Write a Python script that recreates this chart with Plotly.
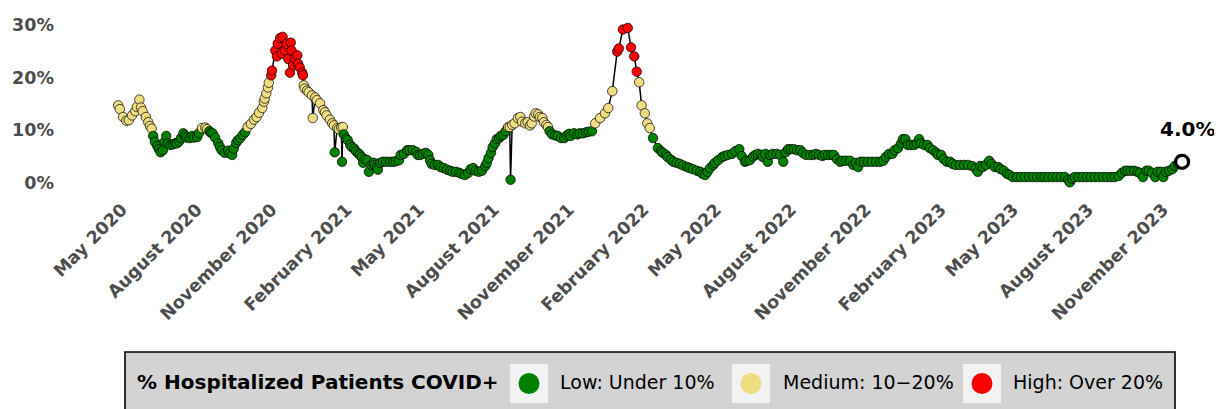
import plotly.graph_objects as go

# ---------------- data ----------------
dates = [
    "2020-04-19","2020-04-21","2020-04-25","2020-04-29","2020-05-02","2020-05-06","2020-05-10","2020-05-12",
    "2020-05-15","2020-05-17","2020-05-19","2020-05-23","2020-05-26","2020-05-28","2020-05-30","2020-06-01",
    "2020-06-03","2020-06-06","2020-06-08","2020-06-10","2020-06-13","2020-06-15","2020-06-17","2020-06-19",
    "2020-06-22","2020-06-25","2020-06-28","2020-06-30","2020-07-03","2020-07-05","2020-07-08","2020-07-10",
    "2020-07-12","2020-07-16","2020-07-19","2020-07-21","2020-07-25","2020-07-27","2020-07-31","2020-08-04",
    "2020-08-06","2020-08-09","2020-08-11","2020-08-13","2020-08-16","2020-08-20","2020-08-22","2020-08-24",
    "2020-08-28","2020-09-01","2020-09-03","2020-09-06","2020-09-08","2020-09-11","2020-09-13","2020-09-16",
    "2020-09-19","2020-09-22","2020-09-25","2020-09-29","2020-10-03","2020-10-06","2020-10-09","2020-10-13",
    "2020-10-15","2020-10-16","2020-10-18","2020-10-20","2020-10-21","2020-10-24","2020-10-25","2020-10-29",
    "2020-10-31","2020-11-01","2020-11-04","2020-11-06","2020-11-07","2020-11-10","2020-11-12","2020-11-14",
    "2020-11-16","2020-11-17","2020-11-18","2020-11-20","2020-11-22","2020-11-25","2020-11-26","2020-11-28",
    "2020-12-01","2020-12-02","2020-12-03","2020-12-04","2020-12-07","2020-12-09","2020-12-13","2020-12-14",
    "2020-12-17","2020-12-19","2020-12-23","2020-12-27","2020-12-29","2020-12-31","2021-01-04","2021-01-07",
    "2021-01-09","2021-01-10","2021-01-13","2021-01-15","2021-01-18","2021-01-19","2021-01-20","2021-01-21",
    "2021-01-24","2021-01-26","2021-01-29","2021-01-31","2021-02-03","2021-02-05","2021-02-08","2021-02-10",
    "2021-02-12","2021-02-14","2021-02-16","2021-02-19","2021-02-21","2021-02-24","2021-02-27","2021-02-28",
    "2021-03-03","2021-03-04","2021-03-07","2021-03-10","2021-03-14","2021-03-19","2021-03-23","2021-03-26",
    "2021-03-30","2021-04-01","2021-04-05","2021-04-09","2021-04-12","2021-04-16","2021-04-20","2021-04-22",
    "2021-04-25","2021-04-28","2021-05-02","2021-05-05","2021-05-07","2021-05-09","2021-05-13","2021-05-17",
    "2021-05-20","2021-05-24","2021-05-28","2021-06-01","2021-06-04","2021-06-08","2021-06-12","2021-06-15",
    "2021-06-19","2021-06-23","2021-06-26","2021-06-29","2021-07-02","2021-07-06","2021-07-10","2021-07-14",
    "2021-07-16","2021-07-18","2021-07-21","2021-07-23","2021-07-26","2021-07-28","2021-07-31","2021-08-02",
    "2021-08-05","2021-08-08","2021-08-11","2021-08-13","2021-08-14","2021-08-16","2021-08-19","2021-08-23",
    "2021-08-26","2021-08-28","2021-09-01","2021-09-04","2021-09-07","2021-09-09","2021-09-12","2021-09-14",
    "2021-09-17","2021-09-19","2021-09-22","2021-09-24","2021-09-27","2021-09-29","2021-10-01","2021-10-04",
    "2021-10-08","2021-10-11","2021-10-15","2021-10-19","2021-10-22","2021-10-25","2021-10-27","2021-10-31",
    "2021-11-04","2021-11-07","2021-11-11","2021-11-15","2021-11-18","2021-11-22","2021-11-26","2021-12-02",
    "2021-12-08","2021-12-12","2021-12-17","2021-12-23","2021-12-25","2021-12-30","2022-01-05","2022-01-09",
    "2022-01-13","2022-01-16","2022-01-19","2022-01-22","2022-01-26","2022-01-29","2022-02-01","2022-02-05",
    "2022-02-11","2022-02-15","2022-02-17","2022-02-21","2022-02-23","2022-02-27","2022-03-02","2022-03-06",
    "2022-03-10","2022-03-14","2022-03-19","2022-03-22","2022-03-26","2022-03-31","2022-04-04","2022-04-07",
    "2022-04-10","2022-04-13","2022-04-16","2022-04-20","2022-04-22","2022-04-26","2022-05-01","2022-05-04",
    "2022-05-08","2022-05-13","2022-05-17","2022-05-22","2022-05-25","2022-05-29","2022-05-31","2022-06-04",
    "2022-06-08","2022-06-11","2022-06-14","2022-06-18","2022-06-20","2022-06-23","2022-06-26","2022-06-29",
    "2022-07-02","2022-07-07","2022-07-11","2022-07-15","2022-07-18","2022-07-21","2022-07-24","2022-07-28",
    "2022-08-01","2022-08-05","2022-08-08","2022-08-12","2022-08-17","2022-08-21","2022-08-24","2022-08-28",
    "2022-09-01","2022-09-04","2022-09-08","2022-09-12","2022-09-15","2022-09-19","2022-09-23","2022-09-26",
    "2022-09-30","2022-10-05","2022-10-09","2022-10-12","2022-10-15","2022-10-18","2022-10-22","2022-10-27",
    "2022-11-01","2022-11-06","2022-11-11","2022-11-15","2022-11-18","2022-11-22","2022-11-26","2022-11-29",
    "2022-12-03","2022-12-07","2022-12-09","2022-12-12","2022-12-15","2022-12-19","2022-12-23","2022-12-26",
    "2022-12-29","2022-12-31","2023-01-04","2023-01-08","2023-01-11","2023-01-15","2023-01-19","2023-01-21",
    "2023-01-25","2023-01-28","2023-02-01","2023-02-05","2023-02-08","2023-02-12","2023-02-17","2023-02-22",
    "2023-02-27","2023-03-04","2023-03-08","2023-03-11","2023-03-14","2023-03-17","2023-03-21","2023-03-25",
    "2023-03-28","2023-04-01","2023-04-05","2023-04-08","2023-04-12","2023-04-16","2023-04-19","2023-04-23",
    "2023-04-28","2023-05-03","2023-05-08","2023-05-13","2023-05-18","2023-05-23","2023-05-28","2023-06-01",
    "2023-06-06","2023-06-11","2023-06-16","2023-06-21","2023-06-26","2023-06-30","2023-07-02","2023-07-05",
    "2023-07-08","2023-07-13","2023-07-18","2023-07-23","2023-07-28","2023-08-02","2023-08-07","2023-08-12",
    "2023-08-17","2023-08-22","2023-08-26","2023-08-31","2023-09-04","2023-09-08","2023-09-11","2023-09-15",
    "2023-09-19","2023-09-23","2023-09-26","2023-09-30","2023-10-04","2023-10-07","2023-10-11","2023-10-15",
    "2023-10-18","2023-10-22","2023-10-25","2023-10-28","2023-11-01","2023-11-05","2023-11-08","2023-11-12",
    "2023-11-17",
]

pct_covid = [
    14.7,14.0,12.5,11.8,11.9,12.8,13.6,14.4,
    15.8,14.3,13.6,12.5,11.5,10.8,10.3,8.9,
    7.8,7.0,6.4,5.8,6.2,7.8,8.9,7.5,
    7.2,7.3,7.5,7.5,7.9,8.5,9.4,9.0,
    8.6,8.5,8.9,8.6,8.7,9.4,10.4,10.5,
    10.2,9.8,9.5,9.4,8.6,7.5,6.8,6.2,
    5.7,6.1,5.6,5.3,6.5,7.6,8.1,8.5,
    9.1,9.6,10.6,11.2,12.0,12.5,13.3,14.2,
    15.4,16.0,17.0,18.1,19.0,20.4,21.3,25.1,
    24.0,26.4,27.5,24.5,27.7,25.1,26.4,23.5,
    20.9,26.6,25.1,22.3,23.6,24.2,22.6,21.9,
    20.9,20.4,18.5,17.9,17.5,17.2,16.6,12.3,
    16.2,15.7,15.1,13.8,13.4,12.8,12.0,11.3,
    10.9,5.8,10.4,10.2,10.5,4.0,10.6,9.2,
    8.4,8.1,7.2,6.8,6.5,6.0,5.6,5.3,
    4.9,3.8,4.5,4.3,2.1,3.4,3.8,3.4,
    3.0,2.5,3.8,4.0,4.0,4.0,4.0,4.1,
    4.3,5.3,5.5,6.2,6.2,6.2,5.9,5.3,
    5.3,5.5,5.7,5.3,4.3,3.6,3.4,3.4,
    3.0,2.8,2.5,2.3,2.1,2.1,1.9,1.7,
    1.5,1.9,2.6,2.8,2.3,2.1,2.3,3.2,
    3.8,4.7,5.7,6.8,7.5,8.3,8.5,8.9,
    9.1,9.8,10.6,10.6,0.6,11.0,11.3,12.3,
    12.5,11.6,11.3,11.5,10.9,11.3,12.6,13.2,
    13.0,12.5,12.3,11.5,11.0,10.6,9.8,9.2,
    9.0,8.9,8.5,8.5,9.0,9.3,8.9,9.4,
    9.2,9.4,9.4,9.6,9.7,9.8,11.3,12.3,
    13.2,14.2,17.4,24.9,25.5,29.1,29.4,25.7,
    24.0,21.1,19.1,14.7,13.2,11.3,10.4,8.5,
    6.6,6.0,5.7,5.3,4.9,4.4,4.0,3.8,
    3.6,3.3,3.0,2.8,2.6,2.3,2.1,1.7,
    1.5,2.1,2.8,3.4,3.8,4.3,4.9,5.1,
    5.3,5.5,6.0,6.4,5.1,4.0,4.2,4.3,
    5.0,5.3,5.5,5.3,4.9,5.5,4.0,5.3,
    5.5,5.5,5.3,4.0,5.8,6.4,6.4,6.4,
    6.2,6.2,5.7,5.3,5.3,5.3,5.5,5.3,
    5.1,5.3,5.3,5.3,5.3,4.5,4.0,4.2,
    4.2,4.2,3.4,3.8,3.0,4.0,4.0,4.0,
    4.0,4.0,4.0,4.2,4.9,5.5,5.5,6.2,
    6.6,7.5,8.3,8.3,7.2,7.2,7.2,7.5,
    8.3,7.5,7.2,7.2,6.6,6.2,5.7,5.3,
    5.3,4.5,4.0,4.0,3.6,3.4,3.4,3.4,
    3.4,3.2,2.8,2.1,3.2,3.0,3.4,4.2,
    3.6,3.0,3.0,2.6,2.3,1.7,1.5,1.1,
    1.1,1.1,1.1,1.1,1.1,1.1,1.1,1.1,
    1.1,1.1,1.1,1.1,1.1,0.6,0.1,0.8,
    1.1,1.1,1.1,1.1,1.1,1.1,1.1,1.1,
    1.1,1.1,1.1,1.3,1.9,2.3,2.3,2.3,
    2.3,2.1,1.9,1.1,2.3,2.3,1.9,1.1,
    2.1,2.1,1.1,2.1,2.3,2.6,3.2,3.6,
    4.0,
]

tick_dates = ["2020-05-01","2020-08-01","2020-11-01","2021-02-01","2021-05-01","2021-08-01",
              "2021-11-01","2022-02-01","2022-05-01","2022-08-01","2022-11-01","2023-02-01",
              "2023-05-01","2023-08-01","2023-11-01"]
tick_labels = ["May 2020","August 2020","November 2020","February 2021","May 2021","August 2021",
               "November 2021","February 2022","May 2022","August 2022","November 2022","February 2023",
               "May 2023","August 2023","November 2023"]

y_ticks = [0, 10, 20, 30]
y_labels = ["0%", "10%", "20%", "30%"]

legend_title = "% Hospitalized Patients COVID+"
level_names = ["Low: Under 10%", "Medium: 10\u221220%", "High: Over 20%"]
level_colors = ["#008000", "#EEDD82", "#FF0000"]

latest_label = "4.0%"

# ---------------- figure ----------------
OFF = 8                      # page body margin of the browser
W, H = 1222 - OFF, 409 - OFF
ML, MR, MT, MB = 52, 7, 2, 214
PW, PH = W - ML - MR, H - MT - MB


def level_color(v):
    if v < 10:
        return level_colors[0]
    if v <= 20:
        return level_colors[1]
    return level_colors[2]


point_colors = [level_color(v) for v in pct_covid]

fig = go.Figure()
fig.add_trace(go.Scatter(
    x=dates, y=pct_covid, mode="lines+markers",
    line=dict(color="black", width=1.5),
    marker=dict(size=9.5, color=point_colors, line=dict(color="black", width=0.7)),
    showlegend=False, hoverinfo="x+y",
))
fig.add_trace(go.Scatter(
    x=[dates[-1]], y=[pct_covid[-1]], mode="markers",
    marker=dict(size=13, color="white", line=dict(color="black", width=3.2)),
    showlegend=False,
))

fig.add_annotation(x=dates[-1], y=pct_covid[-1], text=latest_label, showarrow=False,
                   yshift=33, xshift=5,
                   font=dict(family="DejaVu Sans", size=20, color="black", weight="bold"))


def px_x(px):  # window pixel -> paper
    return (px - OFF - ML) / PW


def px_y(py):
    return (H - MB - (py - OFF)) / PH


shapes = []
shapes.append(dict(type="rect", xref="paper", yref="paper",
                   x0=px_x(125), x1=px_x(1175), y0=px_y(420), y1=px_y(352),
                   fillcolor="#D3D3D3", line=dict(color="black", width=1.6), layer="above"))
key_x = [510, 732, 963]
for kx, col in zip(key_x, level_colors):
    shapes.append(dict(type="rect", xref="paper", yref="paper",
                       x0=px_x(kx), x1=px_x(kx + 38), y0=px_y(403), y1=px_y(364),
                       fillcolor="#F2F2F2", line=dict(width=0), layer="above"))
    cx, cy, r = kx + 19, 383.5, 10.5
    shapes.append(dict(type="circle", xref="paper", yref="paper",
                       x0=px_x(cx - r), x1=px_x(cx + r), y0=px_y(cy + r), y1=px_y(cy - r),
                       fillcolor=col, line=dict(width=0), layer="above"))
fig.update_layout(shapes=shapes)

fig.add_annotation(xref="paper", yref="paper", x=px_x(135), y=px_y(382), xanchor="left", yanchor="middle",
                   text=legend_title, showarrow=False,
                   font=dict(family="DejaVu Sans", size=20, color="black", weight="bold"))
text_x = [560, 783, 1013]
for tx, name in zip(text_x, level_names):
    fig.add_annotation(xref="paper", yref="paper", x=px_x(tx - 2), y=px_y(382), xanchor="left",
                       yanchor="middle", text=name, showarrow=False,
                       font=dict(family="DejaVu Sans", size=19, color="black"))

fig.update_layout(
    width=W, height=H,
    margin=dict(l=ML, r=MR, t=MT, b=MB, autoexpand=False),
    paper_bgcolor="white", plot_bgcolor="white",
    xaxis=dict(type="date", range=["2020-02-07 12:00", "2023-12-27 10:00"],
               tickvals=tick_dates, ticktext=tick_labels, tickangle=-45,
               ticklabelshift=-6,
               showgrid=False, zeroline=False, showline=False, ticks="",
               tickfont=dict(family="DejaVu Sans", size=17.5, color="#4D4D4D", weight="bold"),
               automargin=False),
    yaxis=dict(range=[-2.3, 32.8], tickvals=y_ticks, ticktext=y_labels,
               ticklabelstandoff=5,
               showgrid=False, zeroline=False, showline=False, ticks="",
               tickfont=dict(family="DejaVu Sans", size=17.5, color="#4D4D4D", weight="bold"),
               automargin=False),
)

fig.write_html("out.html")
